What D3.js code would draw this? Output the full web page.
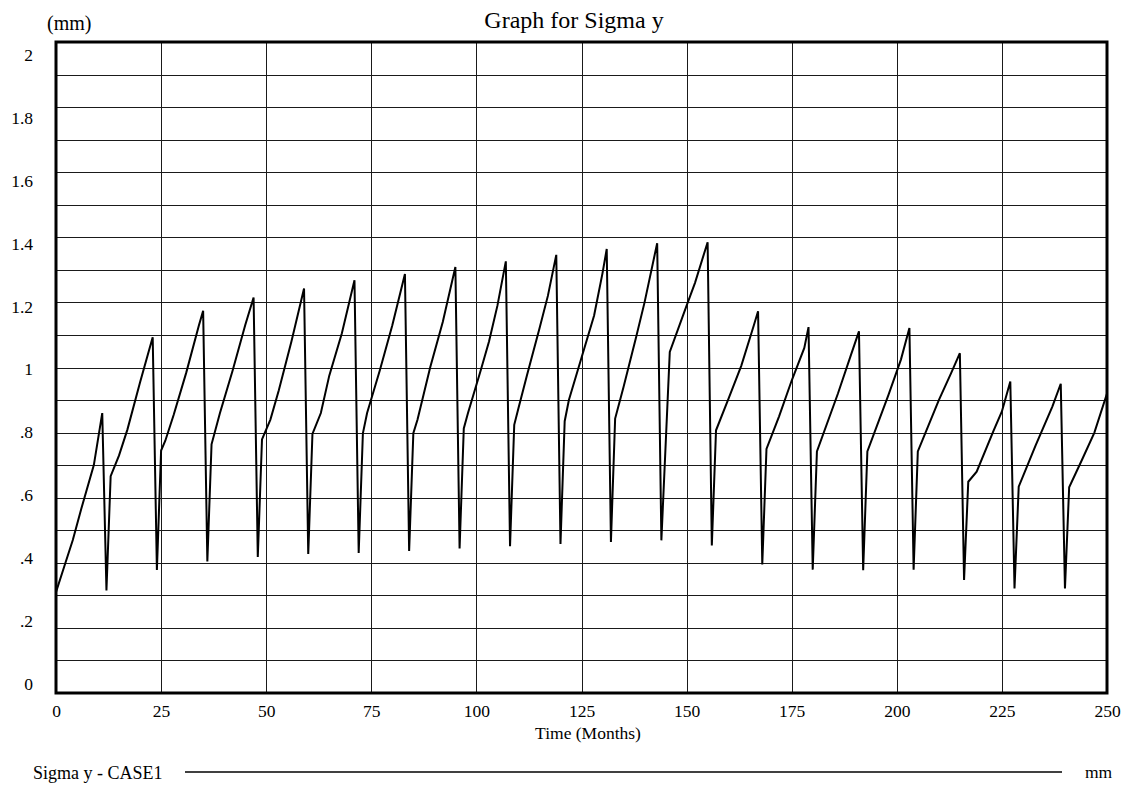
<!DOCTYPE html>
<html>
<head>
<meta charset="utf-8">
<script src="https://cdn.jsdelivr.net/npm/d3@7"></script>
<style>
  html, body { margin: 0; padding: 0; background: #fff; }
  svg { display: block; font-family: "Liberation Serif", "Times New Roman", serif; }
</style>
</head>
<body>
<svg id="chart" width="1126" height="786"></svg>
<script>
// Sigma y (mm) over simulated time, CASE1 run
const months = [
  0, 2, 4, 6, 9, 11, 12,
  13, 15, 17, 20, 23, 24,
  25, 26, 28, 31, 34, 35, 36,
  37, 39, 42, 45, 47, 48,
  49, 51, 53, 56, 59, 60,
  61, 63, 65, 68, 71, 72,
  73, 74, 77, 80, 83, 84,
  85, 86, 89, 92, 95, 96,
  97, 98, 101, 103, 105, 107, 108,
  109, 110, 112, 115, 117, 119, 120,
  121, 122, 125, 128, 130, 131, 132,
  133, 135, 138, 140, 143, 144,
  146, 150, 152, 155, 156,
  157, 160, 163, 166, 167, 168,
  169, 172, 175, 178, 179, 180,
  181, 186, 189, 191, 192,
  193, 198, 201, 203, 204,
  205, 210, 213, 215, 216,
  217, 219, 223, 225, 227, 228,
  229, 233, 237, 239, 240,
  241, 244, 247, 250
];
const sigma = [
  0.31, 0.39, 0.47, 0.565, 0.70, 0.86, 0.315,
  0.666, 0.73, 0.81, 0.955, 1.093, 0.378,
  0.745, 0.775, 0.855, 0.985, 1.13, 1.174, 0.404,
  0.764, 0.86, 0.99, 1.13, 1.215, 0.418,
  0.779, 0.84, 0.93, 1.08, 1.243, 0.427,
  0.796, 0.86, 0.975, 1.105, 1.268, 0.43,
  0.798, 0.86, 0.99, 1.13, 1.287, 0.436,
  0.798, 0.84, 1.00, 1.14, 1.309, 0.444,
  0.813, 0.86, 0.99, 1.08, 1.19, 1.326, 0.451,
  0.824, 0.875, 0.975, 1.12, 1.22, 1.346, 0.458,
  0.835, 0.90, 1.03, 1.16, 1.29, 1.364, 0.464,
  0.843, 0.94, 1.094, 1.20, 1.382, 0.469,
  1.048, 1.19, 1.26, 1.385, 0.453,
  0.807, 0.905, 1.005, 1.13, 1.173, 0.395,
  0.75, 0.85, 0.96, 1.06, 1.124, 0.379,
  0.742, 0.92, 1.035, 1.111, 0.377,
  0.742, 0.915, 1.025, 1.121, 0.379,
  0.742, 0.90, 0.985, 1.044, 0.347,
  0.649, 0.68, 0.805, 0.865, 0.957, 0.321,
  0.634, 0.76, 0.88, 0.95, 0.321,
  0.632, 0.715, 0.80, 0.92
];

const xTicks = [0, 25, 50, 75, 100, 125, 150, 175, 200, 225, 250];
const yTicks = [0, 0.2, 0.4, 0.6, 0.8, 1, 1.2, 1.4, 1.6, 1.8, 2];
const yTickLabels = ["0", ".2", ".4", ".6", ".8", "1", "1.2", "1.4", "1.6", "1.8", "2"];

const chartTitle = "Graph for Sigma y";
const unitLabel = "(mm)";
const xTitle = "Time (Months)";
const seriesName = "Sigma y - CASE1";
const seriesUnit = "mm";

const svg = d3.select("#chart");
const plot = { left: 56, right: 1107, top: 42, bottom: 693 };

const x = d3.scaleLinear().domain([0, 250]).range([plot.left, plot.right]);
const y = d3.scaleLinear().domain([0, 2]).range([plot.bottom, plot.top]);
// value labels sit on their own, slightly inset, scale
const yLabel = d3.scaleLinear().domain([0, 2]).range([689, 60.7]);

// grid
const grid = svg.append("g").attr("stroke", "#1a1a1a").attr("stroke-width", 1);
grid.selectAll("line.h").data(y.ticks(20)).join("line")
  .attr("class", "h")
  .attr("x1", plot.left).attr("x2", plot.right)
  .attr("y1", d => Math.round(y(d)) + 0.5).attr("y2", d => Math.round(y(d)) + 0.5);
grid.selectAll("line.v").data(xTicks).join("line")
  .attr("class", "v")
  .attr("y1", plot.top).attr("y2", plot.bottom)
  .attr("x1", d => Math.round(x(d)) + 0.5).attr("x2", d => Math.round(x(d)) + 0.5);

// frame: heavy lines on the edges of the plot
const frame = svg.append("g").attr("stroke", "#000").attr("stroke-width", 3).attr("fill", "none");
frame.append("rect")
  .attr("x", plot.left).attr("y", plot.top)
  .attr("width", plot.right - plot.left).attr("height", plot.bottom - plot.top);

// data line
const line = d3.line().x((d, i) => x(months[i])).y(d => y(d));
svg.append("path")
  .datum(sigma)
  .attr("fill", "none")
  .attr("stroke", "#000")
  .attr("stroke-width", 2)
  .attr("stroke-linejoin", "miter")
  .attr("d", line);

// y axis labels
const yAxis = d3.axisLeft(yLabel)
  .tickValues(yTicks)
  .tickSize(0)
  .tickPadding(0)
  .tickFormat((d, i) => yTickLabels[i]);
const gy = svg.append("g").attr("transform", "translate(33,0)").call(yAxis);
gy.select(".domain").remove();
gy.selectAll("text")
  .attr("font-family", "Liberation Serif, Times New Roman, serif")
  .attr("font-size", 17.5)
  .attr("fill", "#000")
  .attr("dy", 0);

// x axis labels
const xAxis = d3.axisBottom(x)
  .tickValues(xTicks)
  .tickSize(0)
  .tickPadding(0)
  .tickFormat(d3.format("d"));
const gx = svg.append("g").attr("transform", "translate(0,717)").call(xAxis);
gx.select(".domain").remove();
gx.selectAll("text")
  .attr("font-family", "Liberation Serif, Times New Roman, serif")
  .attr("font-size", 17.5)
  .attr("fill", "#000")
  .attr("y", 0)
  .attr("dy", 0);

// titles
svg.append("text")
  .attr("x", 574).attr("y", 28)
  .attr("text-anchor", "middle")
  .attr("font-size", 24)
  .text(chartTitle);

svg.append("text")
  .attr("x", 47).attr("y", 30)
  .attr("font-size", 20)
  .text(unitLabel);

svg.append("text")
  .attr("x", 588).attr("y", 739)
  .attr("text-anchor", "middle")
  .attr("font-size", 17.5)
  .text(xTitle);

// legend
svg.append("text")
  .attr("x", 33).attr("y", 779)
  .attr("font-size", 18)
  .text(seriesName);
svg.append("line")
  .attr("x1", 185).attr("x2", 1062)
  .attr("y1", 772).attr("y2", 772)
  .attr("stroke", "#000").attr("stroke-width", 1.5);
svg.append("text")
  .attr("x", 1085).attr("y", 778)
  .attr("font-size", 17.5)
  .text(seriesUnit);
</script>
</body>
</html>
